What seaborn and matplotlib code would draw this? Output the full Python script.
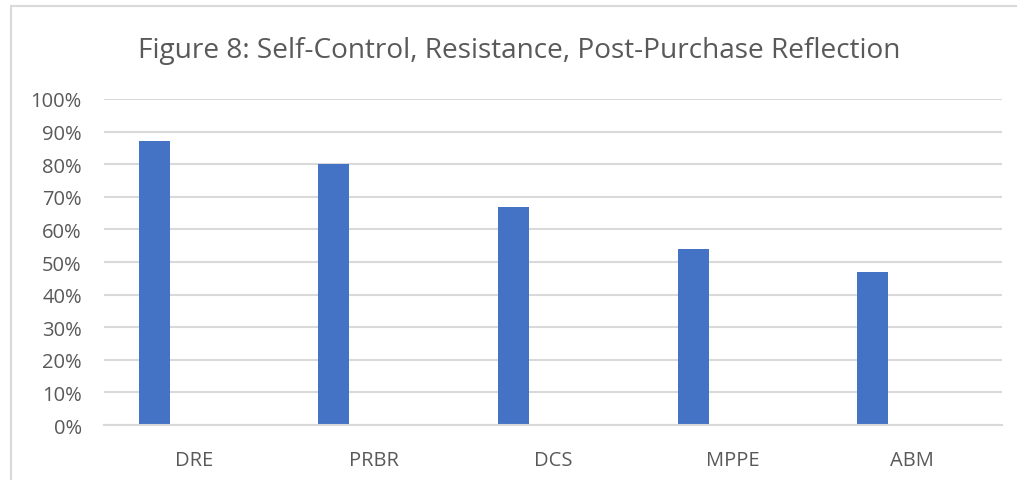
import matplotlib
matplotlib.use("Agg")
import matplotlib.pyplot as plt
from matplotlib.patches import Rectangle
from matplotlib.ticker import FuncFormatter
import seaborn as sns
import pandas as pd

categories = ["DRE", "PRBR", "DCS", "MPPE", "ABM"]
shares = [87, 80, 67, 54, 47]
# second (empty) series keeps the bars in the left half of each slot
empty_series = [0, 0, 0, 0, 0]
series_names = ["Share", "Other"]
title = "Figure 8: Self-Control, Resistance, Post-Purchase Reflection"

df = pd.DataFrame({
    "category": categories * 2,
    "value": shares + empty_series,
    "series": [series_names[0]] * len(categories) + [series_names[1]] * len(categories),
})

sns.set_theme(style="white")
plt.rcParams["font.family"] = ["Open Sans", "DejaVu Sans"]

text_color = "#595959"
grid_color = "#D9D9D9"
bar_color = "#4472C4"

fig = plt.figure(figsize=(10.17, 4.81), dpi=100)
ax = fig.add_axes([0.1023, 0.1143, 0.8830, 0.6778])

sns.barplot(
    data=df, x="category", y="value", hue="series",
    palette=[bar_color, bar_color], width=0.88, gap=0.607, saturation=1,
    dodge=True, legend=False, ax=ax, linewidth=0, errorbar=None,
)

ax.set_ylim(0, 100)
ax.set_yticks(range(0, 101, 10))
ax.yaxis.set_major_formatter(FuncFormatter(lambda v, _: f"{v:.0f}%"))
ax.grid(axis="y", color=grid_color, linewidth=1.5)
ax.set_axisbelow(True)
for side in ["top", "right", "left"]:
    ax.spines[side].set_visible(False)
ax.spines["bottom"].set_color(grid_color)
ax.spines["bottom"].set_linewidth(1.5)
ax.set_xlabel("")
ax.set_ylabel("")
ax.tick_params(axis="y", length=0, pad=16, labelsize=14.5, labelcolor=text_color)
ax.tick_params(axis="x", length=0, pad=18, labelsize=14.5, labelcolor=text_color)

fig.text(0.511, 0.893, title, ha="center", va="center", fontsize=20.2, color=text_color)

# chart border
fig.patches.append(Rectangle((11 / 1017, -0.1), 1.2, 1 - 7 / 481 + 0.1,
                             transform=fig.transFigure, fill=False,
                             edgecolor=grid_color, linewidth=1.5))

fig.savefig("out.png", dpi=100, facecolor="white")
